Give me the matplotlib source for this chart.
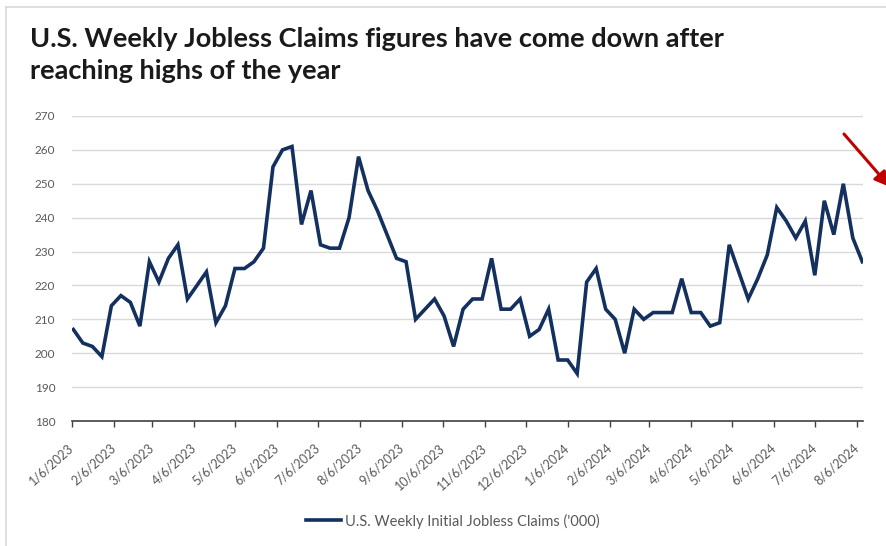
import matplotlib
matplotlib.use("Agg")
import matplotlib.pyplot as plt
import pandas as pd
from matplotlib.lines import Line2D

# ---- data ----
claims = [
    207, 203, 202, 199, 214, 217, 215, 208, 227, 221, 228, 232, 216, 220, 224, 209,
    214, 225, 225, 227, 231, 255, 260, 261, 238, 248, 232, 231, 231, 240, 258, 248,
    242, 235, 228, 227, 210, 213, 216, 211, 202, 213, 216, 216, 228, 213, 213, 216,
    205, 207, 213, 198, 198, 194, 221, 225, 213, 210, 200, 213, 210, 212, 212, 212,
    222, 212, 212, 208, 209, 232, 224, 216, 222, 229, 243, 239, 234, 239, 223, 245,
    235, 250, 234, 227,
]
first_week = "2023-01-07"
tick_labels = [
    "1/6/2023", "2/6/2023", "3/6/2023", "4/6/2023", "5/6/2023", "6/6/2023",
    "7/6/2023", "8/6/2023", "9/6/2023", "10/6/2023", "11/6/2023", "12/6/2023",
    "1/6/2024", "2/6/2024", "3/6/2024", "4/6/2024", "5/6/2024", "6/6/2024",
    "7/6/2024", "8/6/2024",
]
y_ticks = [180, 190, 200, 210, 220, 230, 240, 250, 260, 270]
series_name = "U.S. Weekly Initial Jobless Claims ('000)"
title = "U.S. Weekly Jobless Claims figures have come down after\nreaching highs of the year"

dates = pd.date_range(first_week, periods=len(claims), freq="7D")
tick_pos = pd.to_datetime(tick_labels, format="%m/%d/%Y")

W, H = 886, 546
plt.rcParams["font.family"] = ["Lato", "DejaVu Sans"]
fig = plt.figure(figsize=(W / 100, H / 100), dpi=100)
fig.patch.set_facecolor("white")

def fx(px):
    return px / W

def fy(py):
    return 1 - py / H

ax = fig.add_axes([fx(72), fy(421), fx(863) - fx(72), fy(116) - fy(421)])
line_color = "#13305f"
ax.plot(dates, claims, color=line_color, lw=2.6, solid_joinstyle="miter",
        label=series_name, zorder=3)

ax.set_ylim(180, 270)
ax.set_yticks(y_ticks)
ax.set_xlim(tick_pos[0], dates[-1] + pd.Timedelta(hours=12))
ax.set_xticks(tick_pos)
ax.set_xticklabels(tick_labels, rotation=42, ha="right", va="center",
                   rotation_mode="anchor", fontsize=9, color="#595959")
ax.tick_params(axis="x", length=4, width=1, color="#404040", pad=14)
ax.tick_params(axis="y", length=0, labelsize=8.5, labelcolor="#595959", pad=12)
ax.grid(axis="y", color="#d9d9d9", lw=1)
ax.set_axisbelow(True)
for s in ["top", "right", "left"]:
    ax.spines[s].set_visible(False)
ax.spines["bottom"].set_color("#404040")
ax.spines["bottom"].set_linewidth(1.2)
ax.spines["bottom"].set_zorder(4)

# title
fig.text(fx(30), fy(27), title, ha="left", va="top", fontsize=19.5,
         fontweight="bold", color="#1a1a1a", linespacing=1.42)

# legend
handle = Line2D([], [], color=line_color, lw=2.6)
fig.legend([handle], [series_name], loc="center", bbox_to_anchor=(fx(453), fy(521)),
           frameon=False, fontsize=10.5, handlelength=2.4, handletextpad=0.3,
           labelcolor="#595959")

# frame lines of the screenshot
fig.add_artist(Line2D([fx(6), 1], [fy(7), fy(7)], color="#d9d9d9", lw=1.2))
fig.add_artist(Line2D([fx(6), fx(6)], [fy(7), 0], color="#d9d9d9", lw=1.2))

# red arrow
ax.annotate("", xy=(fx(890), fy(187)), xycoords="figure fraction",
            xytext=(fx(844), fy(134)), textcoords="figure fraction",
            arrowprops=dict(arrowstyle="-|>,head_length=0.9,head_width=0.45",
                            color="#c00000", lw=2.2, shrinkA=0, shrinkB=0),
            annotation_clip=False)

fig.savefig("out.png", dpi=100)
